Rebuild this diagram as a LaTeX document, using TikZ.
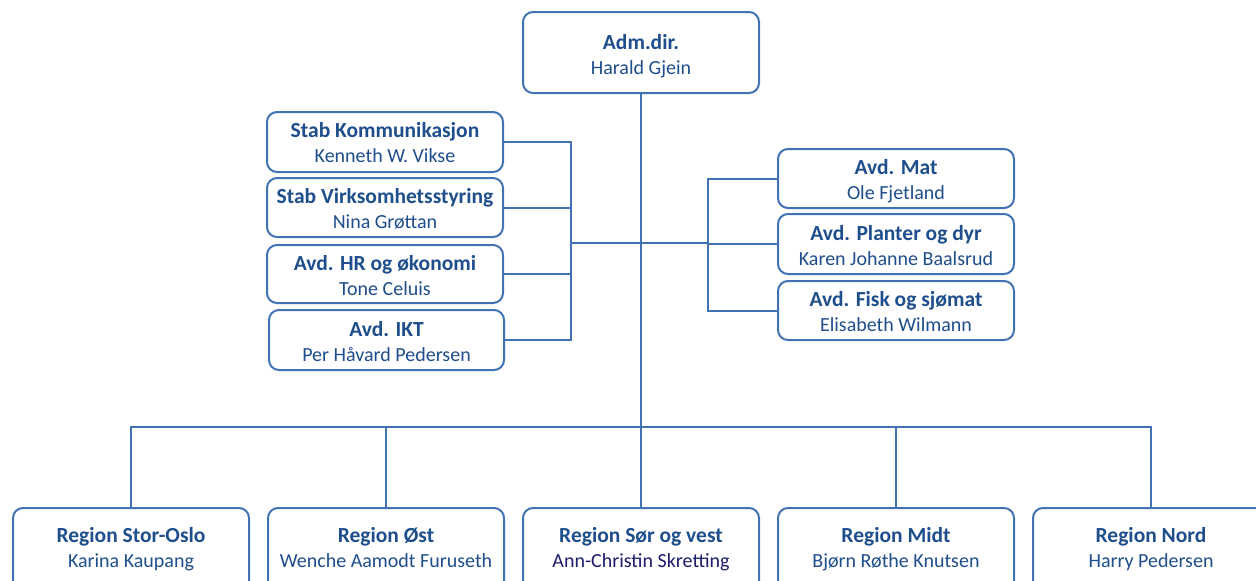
\documentclass[tikz,border=0pt]{standalone}
\usepackage{fontspec}
\setmainfont{Carlito}
\definecolor{bordc}{HTML}{4172B4}
\definecolor{txtc}{HTML}{1F4E8C}
\definecolor{navyc}{HTML}{1C1C6E}
\begin{document}
\begin{tikzpicture}[x=1pt,y=-1pt,
  box/.style={draw=bordc, line width=2pt, rounded corners=10pt, fill=white, inner sep=0pt, minimum width=236pt},
  txt/.style={align=center, text=txtc, inner sep=0pt, font=\fontsize{20}{25}\selectfont},
  conn/.style={draw=bordc, line width=2pt}]
\newcommand\ttl[1]{{\bfseries\fontsize{21.5}{25}\selectfont\vphantom{ÅØ}#1}}
\newcommand\who[1]{\vphantom{gp}#1}
\useasboundingbox (0,0) rectangle (1256,581);
\clip (0,0) rectangle (1256,581);
% top
\node[box, minimum height=81pt] (top) at (641,52.5) {};
\node[txt] (topt) at (641,54.5) {\ttl{Adm.dir.}\\\who{Harald Gjein}};
% left staff
\node[box, minimum height=60pt] (s1) at (385,142) {};
\node[txt] (s1t) at (385,142.5) {\ttl{Stab Kommunikasjon}\\\who{Kenneth W. Vikse}};
\node[box, minimum height=59pt] (s2) at (385,207.5) {};
\node[txt] (s2t) at (385,208.5) {\ttl{Stab Virksomhetsstyring}\\\who{Nina Grøttan}};
\node[box, minimum height=58pt] (s3) at (385,274) {};
\node[txt] (s3t) at (385,275.5) {\ttl{Avd. HR og økonomi}\\\who{Tone Celuis}};
\node[box, minimum height=60pt, minimum width=235pt] (s4) at (386.5,340) {};
\node[txt] (s4t) at (386.5,341.5) {\ttl{Avd. IKT}\\\who{Per Håvard Pedersen}};
% right departments
\node[box, minimum height=59pt] (a1) at (896,178.5) {};
\node[txt] (a1t) at (896,179.5) {\ttl{Avd. Mat}\\\who{Ole Fjetland}};
\node[box, minimum height=60pt] (a2) at (896,244) {};
\node[txt] (a2t) at (896,245.5) {\ttl{Avd. Planter og dyr}\\\who{Karen Johanne Baalsrud}};
\node[box, minimum height=59pt] (a3) at (896,310.5) {};
\node[txt] (a3t) at (896,311.5) {\ttl{Avd. Fisk og sjømat}\\\who{Elisabeth Wilmann}};
% regions
\node[box, minimum height=90pt, anchor=north] (r1) at (131,507) {};
\node[txt] (r1t) at (131,547) {\ttl{Region Stor-Oslo}\\\who{Karina Kaupang}};
\node[box, minimum height=90pt, anchor=north] (r2) at (386,507) {};
\node[txt] (r2t) at (386,547) {\ttl{Region Øst}\\\who{Wenche Aamodt Furuseth}};
\node[box, minimum height=90pt, anchor=north] (r3) at (641,507) {};
\node[txt] (r3t) at (641,547) {\ttl{Region Sør og vest}\\\who{\textcolor{navyc}{Ann-Christin Skretting}}};
\node[box, minimum height=90pt, anchor=north] (r4) at (896,507) {};
\node[txt] (r4t) at (896,547) {\ttl{Region Midt}\\\who{Bjørn Røthe Knutsen}};
\node[box, minimum height=90pt, anchor=north] (r5) at (1151,507) {};
\node[txt] (r5t) at (1151,547) {\ttl{Region Nord}\\\who{Harry Pedersen}};
% connectors
\coordinate (bus) at (641,427);
\coordinate (lj) at (571,243);
\coordinate (rj) at (708,243);
\draw[conn] (top.south) -- (bus);
\foreach \s in {s1,s2,s3,s4} \draw[conn] (\s.east) -| (lj);
\foreach \a in {a1,a2,a3} \draw[conn] (\a.west) -| (rj);
\draw[conn] (lj) -- (rj);
\foreach \r in {r1,r2,r3,r4,r5} \draw[conn] (bus) -| (\r.north);
\end{tikzpicture}
\end{document}
